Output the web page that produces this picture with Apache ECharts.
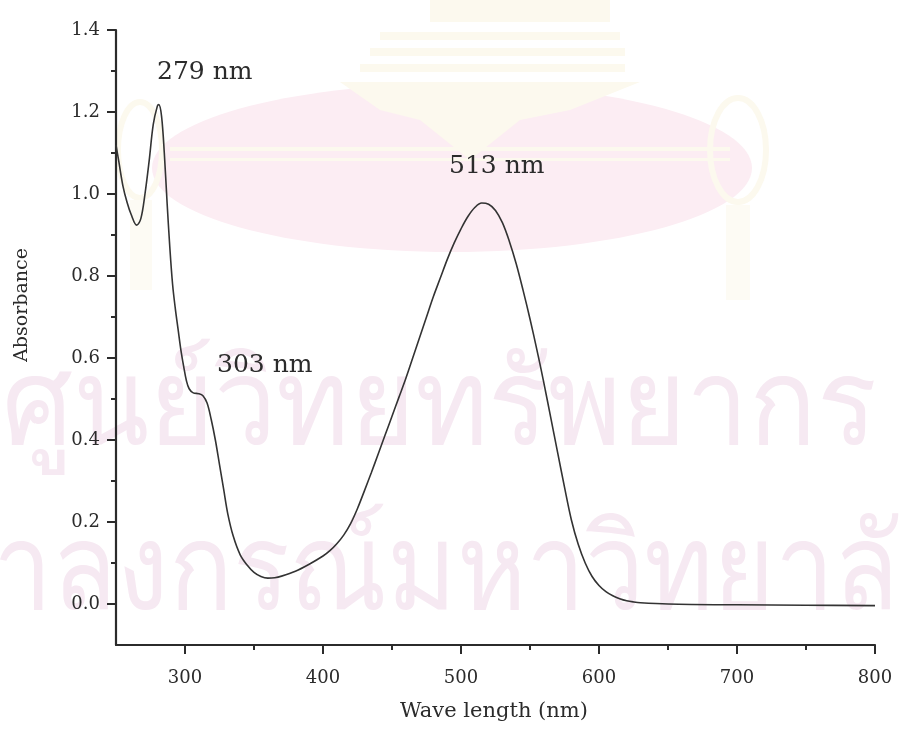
<!DOCTYPE html>
<html>
<head>
<meta charset="utf-8">
<script src="https://cdn.jsdelivr.net/npm/echarts@6/dist/echarts.min.js"></script>
<style>
html,body{margin:0;padding:0;background:#fff;}
#chart{width:900px;height:747px;}
</style>
</head>
<body>
<div id="chart"></div>
<script>
// Wavelength (nm)
const wavelengths = [250,252,255,258,261,265,268,271,274,277,280,281,283,285,287,289,291,293,295,297,299,301,303,306,310,313,316,319,322,325,328,331,335,340,345,350,355,360,365,370,380,390,400,405,410,415,420,425,430,435,440,445,450,455,460,465,470,475,480,485,490,495,500,505,510,515,520,525,530,535,540,545,550,555,560,565,570,575,580,585,590,595,600,605,610,615,620,625,630,650,700,750,800];
// Absorbance
const absorbance = [1.12,1.08,1.02,0.98,0.95,0.924,0.94,1.0,1.08,1.17,1.215,1.218,1.19,1.10,0.98,0.87,0.78,0.72,0.67,0.62,0.58,0.545,0.525,0.515,0.513,0.508,0.49,0.45,0.40,0.34,0.28,0.22,0.165,0.12,0.095,0.077,0.067,0.063,0.064,0.068,0.08,0.097,0.117,0.13,0.147,0.168,0.196,0.233,0.276,0.32,0.366,0.412,0.458,0.504,0.55,0.60,0.65,0.70,0.75,0.795,0.84,0.88,0.915,0.945,0.967,0.978,0.975,0.96,0.93,0.885,0.83,0.765,0.695,0.62,0.54,0.455,0.37,0.285,0.205,0.145,0.10,0.067,0.045,0.03,0.02,0.013,0.008,0.005,0.003,0.0,-0.002,-0.003,-0.004];

const xMajorTicks = [300,400,500,600,700,800];
const xMinorTicks = [350,450,550,650,750];
const yMajorTicks = [0,0.2,0.4,0.6,0.8,1.0,1.2,1.4];
const yMinorTicks = [0.1,0.3,0.5,0.7,0.9,1.1,1.3];

const peakLabels = ['279 nm','303 nm','513 nm'];
const xTitle = 'Wave length (nm)';
const yTitle = 'Absorbance';
const watermark1 = 'ศูนย์วิทยทรัพยากร';
const watermark2 = 'จุฬาลงกรณ์มหาวิทยาลัย';

const FONT = 'DejaVu Serif';
const INK = '#2b2b2b';
const WM = '#f6e9f2';
const CREAM = '#fcf9ee';
const CREAM2 = '#fdfbf4';

const chart = echarts.init(document.getElementById('chart'), null, {renderer:'canvas'});

const axisLineStyle = {color: INK, width: 2.2};

chart.setOption({
  backgroundColor: '#ffffff',
  animation: false,
  grid: {left:116, right:25, top:30, bottom:102, containLabel:false, outerBoundsMode:'none'},
  graphic: [
    {type:'ellipse', z:-10, silent:true, shape:{cx:452, cy:168, rx:300, ry:84},
     style:{fill:'#fcedf3'}},
    {type:'rect', z:-9, silent:true, shape:{x:170, y:147, width:560, height:4}, style:{fill:CREAM}},
    {type:'rect', z:-9, silent:true, shape:{x:170, y:158, width:560, height:3}, style:{fill:CREAM}},
    {type:'rect', z:-9, silent:true, shape:{x:430, y:0, width:180, height:22}, style:{fill:CREAM}},
    {type:'rect', z:-9, silent:true, shape:{x:380, y:32, width:240, height:8}, style:{fill:CREAM}},
    {type:'rect', z:-9, silent:true, shape:{x:370, y:48, width:255, height:8}, style:{fill:CREAM}},
    {type:'rect', z:-9, silent:true, shape:{x:360, y:64, width:265, height:8}, style:{fill:CREAM}},
    {type:'polygon', z:-9, silent:true, shape:{points:[[340,82],[640,82],[570,110],[520,120],[470,160],[420,120],[380,110]]},
     style:{fill:CREAM}},
    {type:'ellipse', z:-9, silent:true, shape:{cx:738, cy:150, rx:28, ry:52}, style:{fill:'none', stroke:CREAM, lineWidth:6}},
    {type:'rect', z:-9, silent:true, shape:{x:726, y:205, width:24, height:95}, style:{fill:CREAM2}},
    {type:'ellipse', z:-9, silent:true, shape:{cx:140, cy:150, rx:22, ry:48}, style:{fill:'none', stroke:CREAM, lineWidth:6}},
    {type:'rect', z:-9, silent:true, shape:{x:130, y:200, width:22, height:90}, style:{fill:CREAM2}},
    {type:'text', z:-8, silent:true, x:2, y:470, scaleX:0.93,
     style:{text:watermark1, font:'120px "Noto Sans", sans-serif', fill:WM, textVerticalAlign:'bottom'}},
    {type:'text', z:-8, silent:true, x:-141, y:635, scaleX:0.88,
     style:{text:watermark2, font:'120px "Noto Sans", sans-serif', fill:WM, textVerticalAlign:'bottom'}},
    {type:'text', z:10, x:157, y:72,
     style:{text:peakLabels[0], font:'25px "'+FONT+'"', fill:INK, textVerticalAlign:'middle'}},
    {type:'text', z:10, x:217, y:365,
     style:{text:peakLabels[1], font:'25px "'+FONT+'"', fill:INK, textVerticalAlign:'middle'}},
    {type:'text', z:10, x:449, y:166,
     style:{text:peakLabels[2], font:'25px "'+FONT+'"', fill:INK, textVerticalAlign:'middle'}},
    {type:'text', z:10, x:494, y:712,
     style:{text:xTitle, font:'21px "'+FONT+'"', fill:INK, textAlign:'center', textVerticalAlign:'middle'}},
    {type:'text', z:10, x:22, y:305, rotation:Math.PI/2,
     style:{text:yTitle, font:'19px "'+FONT+'"', fill:INK, textAlign:'center', textVerticalAlign:'middle'}}
  ],
  xAxis: [
    {type:'value', min:250, max:800, position:'bottom',
     axisLine:{show:true, onZero:false, lineStyle:axisLineStyle},
     axisTick:{show:true, length:9, customValues:xMajorTicks, lineStyle:{color:INK, width:2}},
     axisLabel:{show:true, customValues:xMajorTicks, margin:24, color:INK, fontFamily:FONT, fontSize:18},
     splitLine:{show:false}},
    {type:'value', min:250, max:800, position:'bottom',
     axisLine:{show:false, onZero:false},
     axisTick:{show:true, length:5, customValues:xMinorTicks, lineStyle:{color:INK, width:2}},
     axisLabel:{show:false},
     splitLine:{show:false}}
  ],
  yAxis: [
    {type:'value', min:-0.1, max:1.4, position:'left',
     axisLine:{show:true, onZero:false, lineStyle:axisLineStyle},
     axisTick:{show:true, length:9, customValues:yMajorTicks, lineStyle:{color:INK, width:2}},
     axisLabel:{show:true, customValues:yMajorTicks, margin:16, color:INK, fontFamily:FONT, fontSize:18,
       formatter:function(v){return Number(v).toFixed(1);}},
     splitLine:{show:false}},
    {type:'value', min:-0.1, max:1.4, position:'left',
     axisLine:{show:false, onZero:false},
     axisTick:{show:true, length:5, customValues:yMinorTicks, lineStyle:{color:INK, width:2}},
     axisLabel:{show:false},
     splitLine:{show:false}}
  ],
  series: [{
    type:'line', xAxisIndex:0, yAxisIndex:0,
    data: wavelengths.map(function(w,i){return [w, absorbance[i]];}),
    smooth:0.35, showSymbol:false, symbol:'none',
    lineStyle:{color:'#333333', width:1.6}
  }]
});
</script>
</body>
</html>
